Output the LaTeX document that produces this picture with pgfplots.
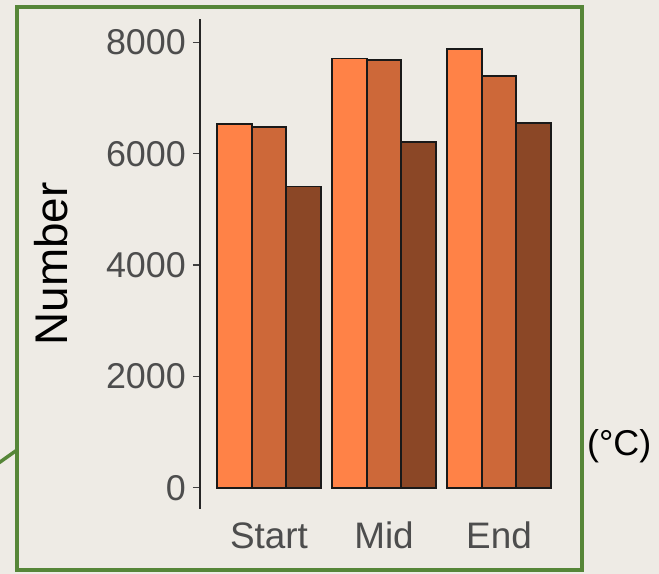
\documentclass[border=0pt]{standalone}
\usepackage{pgfplots}
\pgfplotsset{compat=1.18}
\usepackage{fontspec}
\setmainfont{Liberation Sans}
\definecolor{bg}{RGB}{238,235,229}
\definecolor{frame}{RGB}{86,134,56}
\definecolor{cA}{HTML}{FF8247}
\definecolor{cB}{HTML}{CD6839}
\definecolor{cC}{HTML}{8B4726}
\definecolor{tick}{RGB}{77,77,77}
\begin{document}
\begin{tikzpicture}
\fill[bg, use as bounding box] (0,0) rectangle (659bp,574bp);
\draw[frame, line width=4bp] (17bp,3.7bp) rectangle (581.7bp,567.3bp);
\draw[frame, line width=3.5bp] (-2bp,110.5bp) -- (17bp,124bp);
\node[anchor=west, inner sep=0pt, font=\fontsize{36}{40}\selectfont] at (587bp,128bp) {(°C)};
\begin{axis}[
  at={(200bp,65.3bp)}, anchor=south west,
  scale only axis, width=368bp, height=489.7bp,
  xmin=0.4, xmax=3.6, ymin=-375, ymax=8420,
  axis x line*=bottom, axis y line*=left,
  x axis line style={draw=none},
  y axis line style={-, draw=black!85, line width=1.4bp},
  xtick={1,2,3}, xticklabels={Start,Mid,End},
  xtick style={draw=none},
  ytick={0,2000,4000,6000,8000},
  ytick style={draw=black!75, line width=1.3bp},
  tick align=outside, major tick length=7bp,
  /pgf/number format/assume math mode=true,
  /pgf/number format/1000 sep={},
  yticklabel style={font=\fontsize{36}{40}\selectfont, text=tick, inner sep=0pt, xshift=-7bp},
  xticklabel style={font=\fontsize{37}{40}\selectfont, text=tick, inner sep=0pt, anchor=base, yshift=-32.6bp},
  ylabel={Number},
  every axis y label/.style={at={(axis description cs:-0.405,0.5)}, rotate=90, anchor=center, font=\fontsize{46}{50}\selectfont, text=black},
  ybar, bar width=0.3, bar shift=0pt,
  clip=false,
]
\addplot[fill=cA, draw=black!90, line width=1.7bp] coordinates {(0.7,6530) (1.7,7710) (2.7,7880)};
\addplot[fill=cB, draw=black!90, line width=1.7bp] coordinates {(1,6480) (2,7685) (3,7400)};
\addplot[fill=cC, draw=black!90, line width=1.7bp] coordinates {(1.3,5410) (2.3,6210) (3.3,6555)};
\end{axis}
\end{tikzpicture}
\end{document}
